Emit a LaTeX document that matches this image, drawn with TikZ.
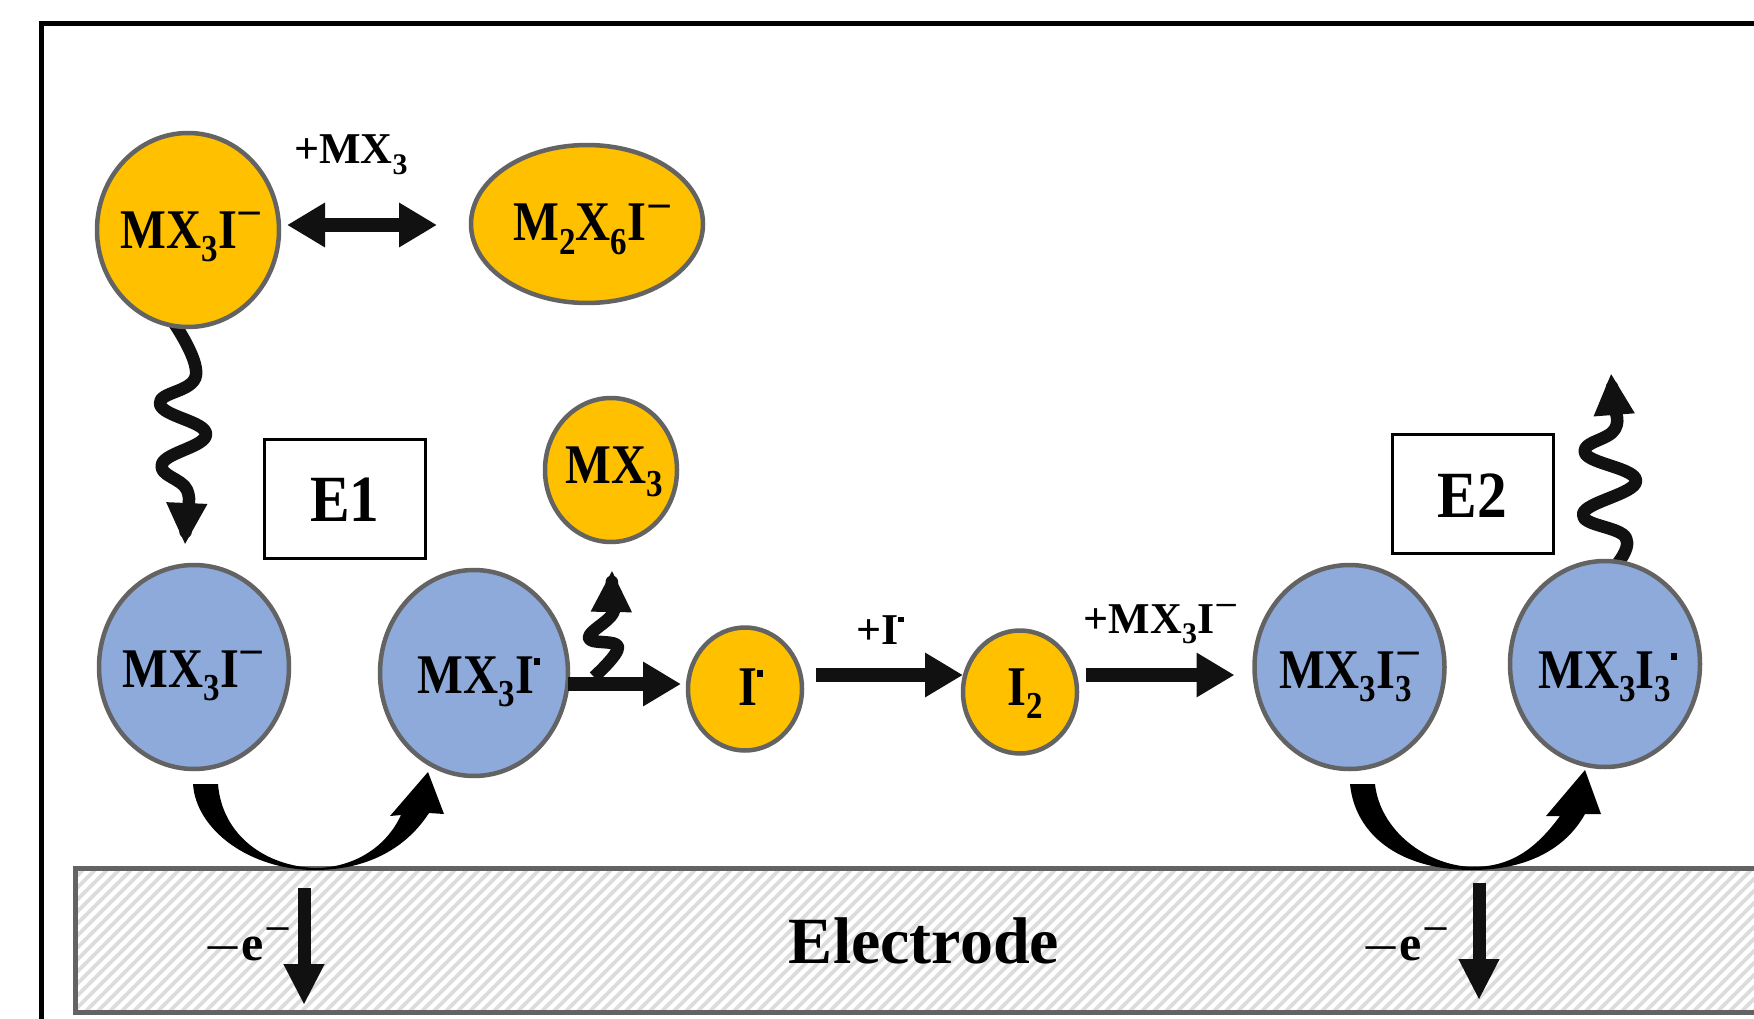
\documentclass[tikz,border=0pt]{standalone}
\usepackage{fontspec}
\setmainfont{Liberation Serif}
\usetikzlibrary{arrows.meta,shapes.geometric,calc,backgrounds}
\definecolor{orangeA}{HTML}{FFC000}
\definecolor{blueA}{HTML}{8EAADB}
\definecolor{edgeA}{HTML}{636363}
\definecolor{inkA}{HTML}{111111}
\definecolor{hatchA}{HTML}{DCDCDC}
\newcommand\dn[1]{\raisebox{-.24em}{\scalebox{.68}{#1}}}
\newcommand\minus{\raisebox{.37em}{\scalebox{.95}[.75]{−}}}
\newcommand\bigminus{\scalebox{1.3}[.75]{−}}
\newcommand\rad{\rule[.5em]{.125em}{.125em}}
\newcommand\tx[3]{\raisebox{#2pt}[0pt][0pt]{\makebox[0pt][c]{\hspace*{\dimexpr2\dimexpr#1pt\relax\relax}\scalebox{.97}[1.12]{#3}}}}
\newcommand\lblfont{\bfseries\fontsize{50}{60}\selectfont}
\newcommand\smfont{\bfseries\fontsize{44}{52}\selectfont}
\newcommand\bigfont{\bfseries\fontsize{66}{78}\selectfont}
\tikzset{
  ball/.style={ellipse,draw=edgeA,line width=4.5pt,inner sep=0pt,outer sep=0pt,font=\lblfont,text=black},
  gold/.style={ball,fill=orangeA},
  sky/.style={ball,fill=blueA},
  labeltxt/.style={anchor=base,inner sep=0pt,font=\smfont,text=black},
  ebox/.style={draw=black,line width=3pt,fill=white,inner sep=0pt,font=\bigfont},
  fat/.style={draw=inkA,line width=14pt,-{Triangle[length=38pt,width=42pt]}},
  fatboth/.style={draw=inkA,line width=14pt,{Triangle[length=38pt,width=42pt]}-{Triangle[length=38pt,width=42pt]}},
  downarr/.style={draw=inkA,line width=13pt,-{Triangle[length=41pt,width=38pt]}},
  wavy/.style={draw=inkA,line width=12.5pt,line join=round,-{Triangle[length=42pt,width=38pt]}},
  curved/.style={fill=black,draw=none},
}
\begin{document}
\begin{tikzpicture}[x=1pt,y=-1pt]
\clip (0,0) rectangle (1754,1019);
\draw[black,line width=5pt] (41,24) rectangle (1800,1060);

% electrode
\node[draw=edgeA,line width=5pt,minimum width=1725pt,minimum height=144pt,anchor=north west,inner sep=0pt,outer sep=0pt,
  path picture={\foreach \i in {-20,...,160}{\draw[hatchA,line width=3.6pt] (path picture bounding box.south west) ++(\i*12,10) -- ++(170,-170);}}]
  (electrode) at (75,868) {};
\node[anchor=base,inner sep=0pt,font=\bigfont] (electext) at (924,963) {Electrode};

% balls
\node[gold,minimum width=182pt,minimum height=194pt] (mxa) at (188,230) {\tx{4}{-18}{MX\dn{3}I\minus}};
\node[gold,minimum width=232pt,minimum height=158pt] (mtwo) at (587,224) {\tx{6}{-17}{M\dn{2}X\dn{6}I\minus}};
\node[gold,minimum width=132pt,minimum height=144pt] (mxthree) at (611,470) {\tx{3}{-13}{MX\dn{3}}};
\node[sky,minimum width=190pt,minimum height=204pt] (bluea) at (194,667) {\tx{0}{-20}{MX\dn{3}I\minus}};
\node[sky,minimum width=188pt,minimum height=206pt] (blueb) at (474,673) {\tx{5}{-20}{MX\dn{3}I\rad}};
\node[sky,minimum width=190pt,minimum height=204pt] (bluec) at (1349.5,667) {\tx{-4}{-21}{MX\dn{3}I\rlap{\minus}\dn{3}}};
\node[sky,minimum width=190pt,minimum height=206pt] (blued) at (1605,664) {\tx{3}{-24}{MX\dn{3}I\dn{3}\rad}};
\node[gold,minimum width=114pt,minimum height=123pt] (irad) at (745,689) {\tx{6}{-16}{I\rad}};
\node[gold,minimum width=114pt,minimum height=123pt] (itwo) at (1020,692) {\tx{5}{-13}{I\dn{2}}};

% boxes
\node[ebox,minimum width=161pt,minimum height=119pt] (eone) at (345,498.5) {\raisebox{-23pt}[0pt][0pt]{\makebox[0pt][c]{\scalebox{.9}[1]{E1}}}};
\node[ebox,minimum width=161pt,minimum height=119pt] (etwo) at (1472.5,494) {\raisebox{-23pt}[0pt][0pt]{\makebox[0pt][c]{\scalebox{.9}[1]{E2}}}};

% labels
\node[labeltxt] (lbla) at (351,164) {+MX\dn{3}};
\node[labeltxt] (lblb) at (880,644) {+I\rad};
\node[labeltxt] (lblc) at (1161,633) {+MX\dn{3}I\minus};
\node[labeltxt,font=\lblfont] (ela) at (248,960) {\bigminus e\minus};
\node[labeltxt,font=\lblfont] (elb) at (1406,960) {\bigminus e\minus};

% straight arrows
\coordinate (ya) at (0,225);
\coordinate (yb) at (0,684);
\coordinate (yc) at (0,675);
\draw[fatboth,shorten <=8pt,shorten >=34pt] (mxa.east|-ya) -- (mtwo.west|-ya);
\draw[fat,shorten >=7pt] (blueb.east|-yb) -- (irad.west|-yb);
\draw[fat,shorten <=14pt] (irad.east|-yc) -- (itwo.west|-yc);
\draw[fat,shorten <=8.5pt,shorten >=20pt] (itwo.east|-yc) -- (bluec.west|-yc);

% electron arrows
\coordinate (dnaS) at (304,888);
\coordinate (dnaE) at (304,1005);
\coordinate (dnbS) at (1479,883);
\coordinate (dnbE) at (1479,1000);
\draw[downarr] (dnaS) -- (dnaE);
\draw[downarr] (dnbS) -- (dnbE);

% wavy arrows, behind the balls
\coordinate (wa) at (185,545);
\coordinate (wb) at (612,570);
\coordinate (wc) at (1611,373);
\begin{scope}[on background layer]
\fill[white] (0,0) rectangle (1754,1019);
\draw[wavy] plot[smooth,tension=.75] coordinates {(172,320) (196,375) (160,404) (206,434) (162,464) (187,490) (186,520) (wa)};
\draw[wavy] plot[smooth,tension=.7] coordinates {(594,677) (618,647) (589,638) (613,613) (612,590) (wb)};
\draw[wavy] plot[smooth,tension=.75] coordinates {(1612,570) (1626,538) (1583,514) (1636,481) (1585,453) (1615,429) (1613,400) (wc)};
\end{scope}

% curved electron-transfer arrows
\path[curved] (193,784) .. controls (196,830) and (250,870) .. (315,870)
  .. controls (365,870) and (405,850) .. (429,813) -- (444,814) -- (428,772) -- (390,816) -- (401,815)
  .. controls (385,850) and (350,868) .. (315,868)
  .. controls (265,866) and (222,835) .. (218,784) -- cycle;
\path[curved] (1350,784) .. controls (1355,835) and (1400,870) .. (1472,870)
  .. controls (1525,870) and (1565,850) .. (1585,814) -- (1601,814) -- (1585,770) -- (1546,816) -- (1560,816)
  .. controls (1535,850) and (1510,867) .. (1472,867)
  .. controls (1425,865) and (1380,830) .. (1375,784) -- cycle;
\end{tikzpicture}
\end{document}
